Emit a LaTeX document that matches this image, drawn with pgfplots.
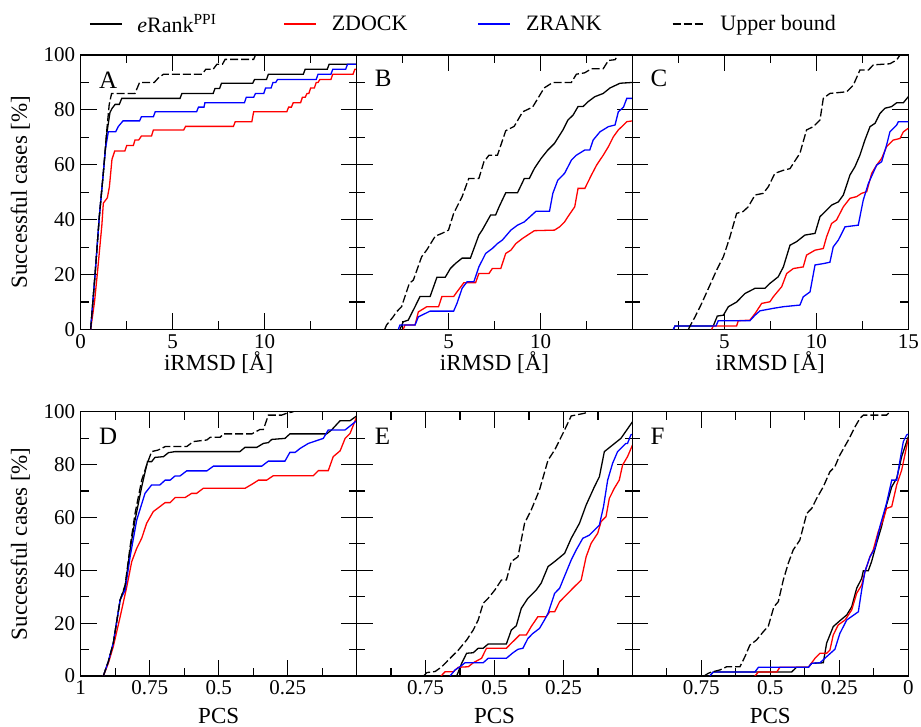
\documentclass[border=0pt]{standalone}
\usepackage{pgfplots}
\pgfplotsset{compat=1.18}
\usepackage{fontspec}
\setmainfont{Liberation Serif}
\definecolor{myred}{RGB}{255,0,0}
\definecolor{myblue}{RGB}{0,0,255}
\tikzset{lett/.style={anchor=north west, inner sep=0pt, font=\fontsize{25}{25}\selectfont}}
\begin{document}
\begin{tikzpicture}
\useasboundingbox (0pt,0pt) rectangle (921pt,727pt);
\pgfplotsset{
  panel/.style={
    scale only axis, width=276pt, anchor=south west,
    ymin=0, ymax=100, ytick={0,20,40,60,80,100}, minor y tick num=1,
    major tick length=16pt, minor tick length=8pt,
    tick style={line width=1.2pt, black},
    axis line style={line width=1.3pt},
    tick align=inside,
    ticklabel style={font=\fontsize{21}{21}\selectfont},
    xticklabel style={yshift=-1.5pt},
    yticklabel style={xshift=-2pt},
    every axis plot/.append style={line width=1.3pt},
    every axis y label/.style={at={(axis description cs:-0.1946,0.5)}, rotate=90, anchor=base, inner sep=0pt, font=\fontsize{23}{23}\selectfont},
  },
  toprow/.style={panel, height=274.5pt, xmin=0, xmax=15,
    xtick={0,5,10,15}, minor x tick num=1, xlabel={iRMSD [Å]},
    every axis x label/.style={at={(axis description cs:0.5,-0.151)}, anchor=base, font=\fontsize{23}{23}\selectfont}},
  botrow/.style={panel, height=264.3pt, xmin=0, xmax=1, x dir=reverse,
    xtick={0,0.25,0.5,0.75,1}, minor x tick num=1, xlabel={PCS},
    every axis x label/.style={at={(axis description cs:0.5,-0.178)}, anchor=base, font=\fontsize{23}{23}\selectfont}},
  er/.style={black, solid},
  zd/.style={myred, solid},
  zr/.style={myblue, solid},
  ub/.style={black, dash pattern=on 8pt off 3pt},
}
% ---------------- A
\begin{axis}[toprow, at={(80.7pt,397.5pt)}, xticklabels={0,5,10,}, yticklabels={0,20,40,60,80,100}, ylabel={Successful cases [\%]},
  legend columns=4,
  legend image code/.code={\draw[#1] (0pt,0pt) -- (32pt,0pt);},
  legend style={at={(axis description cs:0.030,1.113)}, anchor=west, draw=none, fill=none,
    font=\fontsize{22}{22}\selectfont, inner sep=0pt, nodes={inner sep=0pt},
    /tikz/every odd column/.append style={column sep=15pt},
    /tikz/every even column/.append style={column sep=0pt}},
  legend cell align=left]
\addplot[er] coordinates {(0.54,0) (0.78,20) (1.01,41) (1.23,57) (1.41,71) (1.59,79) (1.7,80.5) (1.87,82) (2.1,82) (2.23,84.2) (5.4,84.2) (5.5,86) (7.2,86) (7.3,87.8) (7.55,87.8) (7.65,89.7) (9.35,89.7) (9.45,91.1) (10.1,91.1) (10.2,93) (12.1,93) (12.2,94.8) (13.4,94.8) (13.5,96.6) (15,96.6)};
\addlegendentry{\makebox[146pt][l]{\textit{e}Rank\textsuperscript{PPI}}}
\addplot[zd] coordinates {(0.54,0) (0.75,10) (0.9,20) (1.15,38) (1.23,46) (1.45,48) (1.56,52) (1.7,62) (1.85,65) (2.4,65) (2.5,67) (2.86,67) (2.95,69) (3.15,69) (3.3,70.5) (3.85,70.5) (3.95,72.7) (5.6,72.7) (5.7,74) (8.3,74) (8.4,75.7) (9.3,75.7) (9.4,79.3) (11.2,79.3) (11.3,81) (11.45,81) (11.55,82.6) (11.95,82.6) (12.05,84.6) (12.2,84.6) (12.3,86) (12.4,86) (12.5,88) (12.7,88) (12.8,90) (12.9,90) (13.0,91.1) (13.6,91.1) (13.7,93) (14.8,93) (14.9,94.8) (15,94.8)};
\addlegendentry{\makebox[146pt][l]{ZDOCK}}
\addplot[zr] coordinates {(0.54,0) (0.78,20) (1.01,41) (1.2,55) (1.35,66) (1.5,72) (1.9,72) (2.05,74) (2.3,76) (3.2,76) (3.3,77.5) (3.95,77.5) (4.05,79.3) (6.3,79.3) (6.4,81) (6.7,81) (6.75,82.6) (8.9,82.6) (9.0,84.6) (9.4,84.6) (9.5,86) (9.95,86) (10.05,88) (10.35,88) (10.45,90) (10.6,90) (10.7,91.1) (12.8,91.1) (12.9,93) (13.6,93) (13.7,94.8) (14.4,94.8) (14.5,96.6) (15,96.6)};
\addlegendentry{\makebox[146pt][l]{ZRANK}}
\addplot[ub] coordinates {(0.54,0) (0.78,20) (1.01,41) (1.23,57) (1.41,72) (1.55,82) (1.68,86) (2.95,86) (3.2,90) (4.0,90) (4.2,91.5) (4.5,93) (6.6,93) (6.8,94.8) (7.2,94.8) (7.4,96.6) (7.7,96.6) (7.85,98.4) (9.4,98.4) (9.5,100)};
\addlegendentry{Upper bound}
\node[lett] at (axis description cs:0.066,0.94) {A};
\end{axis}
% ---------------- B
\begin{axis}[toprow, at={(356.5pt,397.5pt)}, xticklabels={,5,10,}, yticklabels={}]
\addplot[er] coordinates {(2.36,0) (2.54,2.8) (2.81,3.4) (3.18,8.3) (3.45,12) (4.0,12) (4.37,19) (4.82,19) (5.1,22.2) (5.37,24) (5.74,26) (6.19,26) (6.65,34.4) (6.83,36.2) (7.29,41.7) (7.56,41.7) (7.75,44.7) (8.11,49.8) (8.75,49.8) (9.12,55) (9.39,55) (9.67,58.7) (10.03,62.3) (10.4,65.4) (10.76,67.8) (11.22,72.7) (11.49,76.3) (11.77,78.1) (12.04,81.2) (12.31,81.2) (12.59,83) (12.95,84.8) (13.41,86) (13.78,88) (14.32,89.7) (15,90)};
\addplot[zd] coordinates {(2.54,0) (2.63,1.6) (3.18,1.6) (3.36,6.4) (3.82,8.3) (4.46,8.3) (4.64,12) (5.28,12) (5.46,13.7) (5.83,17) (6.47,17) (6.65,20.4) (7.2,20.4) (7.38,22.2) (7.84,22.2) (8.11,27.7) (8.39,28.9) (8.66,31.3) (9.03,33.2) (9.3,34.4) (9.67,36) (10.76,36.2) (11.04,37.4) (11.31,39.2) (11.49,41.1) (11.86,44.7) (12.04,51.4) (12.41,51.4) (12.77,56.3) (13.05,59.9) (13.41,63.5) (13.69,66.6) (13.96,70.2) (14.23,72.7) (14.42,73.9) (14.69,75.7) (15,76)};
\addplot[zr] coordinates {(2.27,0) (2.36,1.6) (3.18,1.6) (3.36,4.6) (4.0,6.7) (5.28,6.7) (5.46,9.5) (5.74,15) (6.01,17.4) (6.38,17.4) (6.65,22.8) (7.02,27.7) (7.38,29.5) (7.66,31.3) (7.93,32.6) (8.39,36.2) (8.75,38) (9.12,39.2) (9.76,43.1) (10.49,43.1) (10.67,49.6) (10.94,54.4) (11.31,56.9) (11.68,61.7) (11.95,63.5) (12.41,65.4) (12.68,65.4) (12.86,69) (13.23,72) (13.69,73.9) (14.05,74.5) (14.23,79.3) (14.51,81) (14.69,84.2) (15,84.2)};
\addplot[ub] coordinates {(1.53,0) (1.63,1.6) (1.99,4.6) (2.17,6.4) (2.45,8.3) (2.87,16.8) (3.09,18) (3.54,26.5) (3.82,29) (4.28,34) (4.64,35) (5.0,36.2) (5.28,42.3) (5.74,48.4) (6.1,55) (6.65,55) (6.92,61) (7.2,63.5) (7.66,63.5) (8.11,72.4) (8.57,74) (9.03,79.3) (9.57,81) (10.2,88) (10.67,90) (11.68,90) (11.95,93) (12.4,93.5) (12.77,95) (13.41,95) (13.69,98) (14.05,98.3) (14.23,100)};
\node[lett] at (axis description cs:0.066,0.945) {B};
\end{axis}
% ---------------- C
\begin{axis}[toprow, at={(632.3pt,397.5pt)}, xticklabels={,5,10,15}, yticklabels={}]
\addplot[er] coordinates {(2.23,0) (2.32,1.3) (4.4,1.3) (4.62,4.9) (4.95,5.2) (5.22,8.3) (5.67,10) (6.12,13.1) (6.67,15) (7.21,15) (7.48,16.8) (7.93,19.2) (8.21,22.8) (8.57,30.7) (8.93,32) (9.38,34.4) (9.93,35) (10.2,41.1) (10.47,42.9) (10.83,45.3) (11.2,46.5) (11.47,49) (11.83,56.3) (12.1,59.3) (12.37,63.5) (12.64,69) (12.92,73.9) (13.19,75.1) (13.46,78.7) (13.73,80.6) (14.09,81.2) (14.37,82.6) (14.73,82.6) (15,84.8)};
\addplot[zd] coordinates {(4.31,0) (4.4,1.3) (5.67,1.3) (5.76,3.2) (6.39,3.4) (6.67,5.8) (7.03,9.5) (7.48,10.1) (7.66,11.9) (8.12,15.6) (8.39,20.4) (8.75,22.2) (9.29,22.8) (9.47,27.1) (9.93,28.9) (10.38,29.5) (10.56,33.8) (10.83,38.6) (11.1,39.9) (11.47,44.7) (11.83,47.8) (12.19,48.4) (12.46,49.6) (12.74,50.2) (13.01,56.9) (13.28,59.9) (13.55,62.3) (13.82,66.6) (14.18,69) (14.55,69.6) (14.73,72) (15,73.3)};
\addplot[zr] coordinates {(2.23,0) (2.32,1.3) (4.55,1.3) (4.67,3.2) (6.39,3.2) (6.67,5.2) (6.94,6.8) (7.66,7.7) (8.21,8.3) (9.11,8.9) (9.29,11.9) (9.66,13.7) (9.93,23.5) (10.38,24) (10.74,24.5) (10.92,30.1) (11.2,32.6) (11.56,37.4) (12.28,38) (12.55,47.1) (12.83,53.2) (13.28,59.9) (13.55,61.1) (13.82,67.2) (14.0,72) (14.37,74.5) (14.46,75.7) (15,75.7)};
\addplot[ub] coordinates {(3.05,0) (3.13,1.2) (3.41,4.6) (3.77,9.5) (4.22,16.2) (4.58,21.6) (4.95,26.5) (5.31,33.8) (5.67,42.3) (6.03,43) (6.3,44.7) (6.67,49) (7.12,49.6) (7.39,52) (7.75,56.9) (8.21,58) (8.57,58.6) (8.75,60.5) (9.11,64.2) (9.47,72.7) (9.84,73.9) (10.2,76.3) (10.38,84.2) (10.74,86) (11.65,86.6) (12.01,89) (12.37,94.5) (12.83,94.5) (13.1,96.4) (14.0,96.8) (14.37,98.2) (14.55,100)};
\node[lett] at (axis description cs:0.066,0.945) {C};
\end{axis}
% ---------------- D
\begin{axis}[botrow, at={(80.7pt,51pt)}, xticklabels={,0.25,0.5,0.75,1}, yticklabels={0,20,40,60,80,100}, ylabel={Successful cases [\%]}]
\addplot[er] coordinates {(0.918,0) (0.9,5.4) (0.882,12.4) (0.857,28.8) (0.839,33.8) (0.821,47.7) (0.803,59) (0.779,71.6) (0.758,81.1) (0.743,81.1) (0.731,82.7) (0.700,83) (0.682,84.5) (0.658,84.9) (0.423,84.9) (0.405,86.5) (0.362,86.5) (0.338,88) (0.320,88.3) (0.308,89.5) (0.260,89.9) (0.242,91.6) (0.109,91.6) (0.091,93.1) (0.060,96.6) (0.024,96.6) (0,98.4)};
\addplot[zd] coordinates {(0.918,0) (0.9,4.8) (0.882,11.1) (0.857,22.4) (0.833,33.8) (0.815,43.3) (0.797,48.3) (0.779,52.1) (0.761,57.8) (0.737,62.2) (0.713,64.1) (0.694,65.6) (0.676,65.6) (0.658,67.5) (0.622,67.5) (0.598,69.1) (0.580,69.1) (0.556,71) (0.405,71) (0.380,72.5) (0.356,74.1) (0.326,74.1) (0.302,75.8) (0.157,75.8) (0.139,77.7) (0.103,77.7) (0.085,83) (0.060,85.2) (0.042,89.9) (0.024,91.8) (0,98.1)};
\addplot[zr] coordinates {(0.918,0) (0.9,5.4) (0.882,12.4) (0.857,28.8) (0.839,32.5) (0.821,45.1) (0.797,59) (0.767,69.1) (0.743,72.3) (0.713,72.3) (0.694,74.1) (0.676,74.1) (0.658,75.7) (0.640,75.7) (0.616,77.6) (0.543,77.6) (0.519,79.4) (0.344,79.4) (0.320,81.3) (0.260,81.3) (0.242,84.6) (0.223,84.6) (0.205,86.1) (0.175,88) (0.121,89.9) (0.103,93.1) (0.042,93.1) (0,96.6)};
\addplot[ub] coordinates {(0.918,0) (0.9,5.4) (0.882,12.4) (0.857,28.8) (0.839,34.4) (0.821,48.9) (0.803,61.5) (0.779,74.1) (0.761,79.8) (0.743,84.9) (0.719,85.5) (0.694,86.8) (0.616,86.8) (0.592,88.7) (0.543,89.3) (0.531,90.3) (0.495,90.3) (0.483,91.6) (0.380,91.6) (0.350,93.3) (0.338,93.3) (0.320,98.7) (0.272,98.7) (0.254,99.4) (0.229,100)};
\node[lett] at (axis description cs:0.066,0.94) {D};
\end{axis}
% ---------------- E
\begin{axis}[botrow, at={(356.5pt,51pt)}, xticklabels={,0.25,0.5,0.75,}, yticklabels={}]
\addplot[er] coordinates {(0.637,0) (0.619,4.8) (0.601,8.6) (0.577,8.8) (0.559,10.5) (0.541,10.5) (0.523,12.1) (0.457,12.1) (0.439,17.4) (0.421,19) (0.403,25.6) (0.379,29.4) (0.349,32.5) (0.331,35.1) (0.306,41.4) (0.282,43.3) (0.246,46.4) (0.222,52.1) (0.192,57.8) (0.168,64.7) (0.138,71.6) (0.120,75.4) (0.102,84.9) (0.072,87.4) (0.042,89.9) (0,96.2)};
\addplot[zd] coordinates {(0.694,0) (0.679,1.6) (0.649,1.6) (0.631,3.3) (0.595,3.5) (0.577,5) (0.547,6.7) (0.529,10.5) (0.457,10.5) (0.439,12.4) (0.409,15.5) (0.385,15.5) (0.367,18.7) (0.343,22.4) (0.313,22.4) (0.300,24.3) (0.282,24.3) (0.264,28.1) (0.246,30) (0.216,33.2) (0.186,36.3) (0.168,45.1) (0.150,50.2) (0.126,54) (0.114,58.4) (0.096,60.3) (0.084,67.2) (0.066,71) (0.048,74.1) (0.036,79.8) (0.018,83) (0,87.4)};
\addplot[zr] coordinates {(0.661,0) (0.643,2.3) (0.625,3.5) (0.607,5) (0.541,5) (0.523,6.7) (0.457,6.7) (0.433,8.8) (0.415,10.1) (0.397,10.5) (0.379,14.2) (0.361,16.1) (0.337,18) (0.319,21.2) (0.306,23.7) (0.282,31.3) (0.264,33.2) (0.252,36.3) (0.222,43.9) (0.204,47.7) (0.180,52.1) (0.156,53.3) (0.120,57.1) (0.105,64.1) (0.090,74.1) (0.072,80.5) (0.054,84.9) (0.024,88) (0.018,88) (0.006,91.2) (0,91.5)};
\addplot[ub] coordinates {(0.757,0) (0.745,1.3) (0.715,1.7) (0.691,3.5) (0.661,6.7) (0.631,9.8) (0.601,13.6) (0.577,17.4) (0.559,21.2) (0.541,27.5) (0.523,29.4) (0.499,32.5) (0.475,36.3) (0.457,36.3) (0.439,43.3) (0.415,45.1) (0.391,57.8) (0.367,62.8) (0.337,70.4) (0.306,81.7) (0.282,85.5) (0.252,91.8) (0.222,98.4) (0.174,99.4) (0.162,100)};
\node[lett] at (axis description cs:0.066,0.94) {E};
\end{axis}
% ---------------- F
\begin{axis}[botrow, at={(632.3pt,51pt)}, xticklabels={0,0.25,0.5,0.75,}, yticklabels={}]
\addplot[er] coordinates {(0.719,0) (0.707,1.5) (0.423,1.5) (0.405,3.3) (0.362,3.3) (0.350,4.8) (0.308,5) (0.296,12.4) (0.272,18.7) (0.248,20.9) (0.223,23.1) (0.205,26.2) (0.187,33.2) (0.169,36.9) (0.163,39.8) (0.145,39.8) (0.133,43.3) (0.115,50.2) (0.097,56.5) (0.079,64.7) (0.060,71.6) (0.042,74.8) (0.024,83) (0,90.5)};
\addplot[zd] coordinates {(0.556,0) (0.543,1.5) (0.477,1.5) (0.465,3.3) (0.362,3.3) (0.338,6.7) (0.320,8.6) (0.296,8.6) (0.284,9.8) (0.272,15.5) (0.254,19.3) (0.229,21.2) (0.205,25) (0.187,31.3) (0.169,34.4) (0.157,39.5) (0.139,45.1) (0.127,47.7) (0.109,54.6) (0.091,59) (0.079,63.4) (0.060,64.1) (0.042,72.3) (0.024,77.9) (0,89.9)};
\addplot[zr] coordinates {(0.719,0) (0.707,1.5) (0.556,1.5) (0.543,3.3) (0.362,3.3) (0.350,4.8) (0.320,5) (0.296,7.3) (0.266,10.1) (0.248,16.1) (0.223,21.2) (0.181,24.3) (0.169,32.5) (0.157,39.5) (0.139,45.1) (0.121,48.3) (0.103,56.5) (0.079,65.3) (0.060,74.1) (0.042,74.1) (0.030,81.7) (0.018,88.7) (0.006,91.2) (0,91.5)};
\addplot[ub] coordinates {(0.74,0) (0.725,1) (0.713,1.5) (0.682,2.3) (0.658,3.5) (0.610,3.5) (0.592,7.3) (0.574,11.7) (0.550,13.6) (0.525,16.8) (0.507,18.9) (0.487,26.2) (0.471,28.1) (0.453,36.3) (0.435,42.6) (0.417,47.7) (0.393,51.4) (0.368,61.5) (0.350,63.4) (0.332,67.2) (0.308,71.6) (0.284,77.3) (0.266,79.2) (0.248,83.6) (0.217,89.3) (0.193,94.3) (0.175,97.5) (0.163,98.7) (0.079,98.7) (0.066,100)};
\node[lett] at (axis description cs:0.066,0.94) {F};
\end{axis}
\end{tikzpicture}
\end{document}
